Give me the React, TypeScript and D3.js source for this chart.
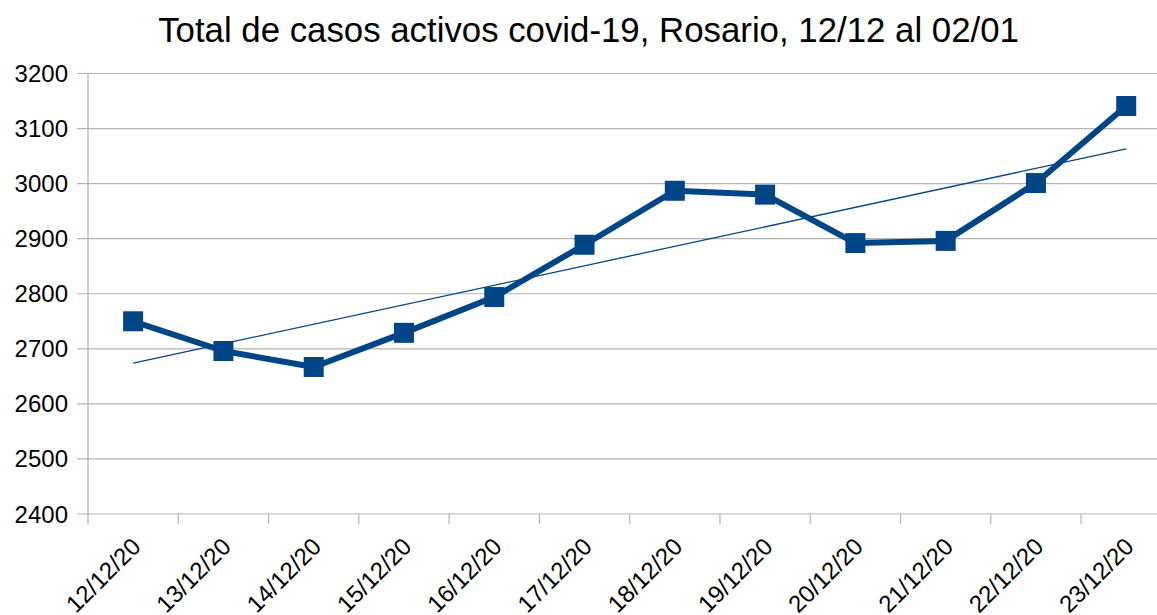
import React from "react";
import * as d3 from "d3";

const categories = ["12/12/20","13/12/20","14/12/20","15/12/20","16/12/20","17/12/20","18/12/20","19/12/20","20/12/20","21/12/20","22/12/20","23/12/20"];
const values = [2750, 2696, 2667, 2729, 2794, 2889, 2987, 2980, 2892, 2896, 3001, 3141];
const yTicks = [2400, 2500, 2600, 2700, 2800, 2900, 3000, 3100, 3200];
const title = "Total de casos activos covid-19, Rosario, 12/12 al 02/01";

export default function App() {
  const W = 1157, H = 615;
  const left = 88, top = 73.5, bottom = 514;
  const band = 90.28;
  const right = left + band * categories.length;
  const x = d3.scaleBand<string>().domain(categories).range([left, right]).padding(0);
  const y = d3.scaleLinear().domain([2400, 3200]).range([bottom, top]);
  const cx = (c: string) => (x(c) as number) + x.bandwidth() / 2;

  const n = values.length;
  const mx = d3.mean(d3.range(n)) as number;
  const my = d3.mean(values) as number;
  const sxy = d3.sum(values, (v, i) => (i - mx) * (v - my));
  const sxx = d3.sum(d3.range(n), (i) => (i - mx) * (i - mx));
  const slope = sxy / sxx;
  const inter = my - slope * mx;
  const trend = [0, n - 1].map((i) => [cx(categories[i]), y(inter + slope * i)] as [number, number]);

  const line = d3.line<number>().x((_, i) => cx(categories[i])).y((v) => y(v));
  const grid = "#b3b3b3";
  const blue = "#004586";
  const font = "'Liberation Sans', Arial, sans-serif";

  return (
    <svg width={W} height={H} style={{ position: "absolute", left: 0, top: 0 }} fontFamily={font}>
      <rect width={W} height={H} fill="#fff" />
      <text x={588.5} y={41.5} textAnchor="middle" fontSize={34.8} fill="#000">{title}</text>
      {yTicks.map((t) => (
        <g key={t}>
          <line x1={77} x2={right} y1={y(t)} y2={y(t)} stroke={grid} strokeWidth={1.2} />
          <text x={68} y={y(t) + 8.5} textAnchor="end" fontSize={24} fill="#000">{t}</text>
        </g>
      ))}
      <line x1={left} x2={left} y1={top} y2={bottom + 10} stroke={grid} strokeWidth={1.2} />
      {categories.map((c, i) => (
        <g key={c}>
          {i > 0 && <line x1={x(c)} x2={x(c)} y1={bottom} y2={bottom + 10} stroke={grid} strokeWidth={1.2} />}
          <text transform={`translate(${cx(c) + 9},${bottom + 34}) rotate(-45)`} textAnchor="end" fontSize={24} fill="#000">{c}</text>
        </g>
      ))}
      <path d={line(values) as string} fill="none" stroke={blue} strokeWidth={6} strokeLinejoin="round" />
      {values.map((v, i) => (
        <rect key={i} x={cx(categories[i]) - 10} y={y(v) - 10} width={20} height={20} fill={blue} />
      ))}
      <line x1={trend[0][0]} y1={trend[0][1]} x2={trend[1][0]} y2={trend[1][1]} stroke={blue} strokeWidth={1.3} />
    </svg>
  );
}
